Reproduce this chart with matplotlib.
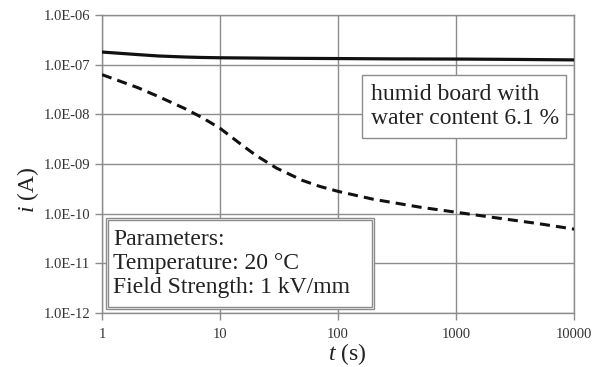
import numpy as np
import matplotlib
matplotlib.use("Agg")
import matplotlib.pyplot as plt
from matplotlib.patches import Rectangle
from matplotlib.ticker import FixedLocator, FixedFormatter

# --- data ---
t_solid = [1, 1.5, 2, 3, 5, 7, 10, 30, 100, 300, 1000, 3000, 10000]
i_solid = [1.8e-7, 1.68e-7, 1.6e-7, 1.5e-7, 1.43e-7, 1.40e-7, 1.38e-7,
           1.35e-7, 1.33e-7, 1.31e-7, 1.30e-7, 1.28e-7, 1.25e-7]

t_dash = [1, 2, 3, 5, 7, 10, 15, 20, 30, 50, 70, 100, 200, 500,
          1000, 2000, 5000, 10000]
logi_dash = [-7.20, -7.46, -7.64, -7.88, -8.06, -8.28, -8.60, -8.82, -9.08,
             -9.33, -9.45, -9.55, -9.71, -9.87, -9.97, -10.07, -10.20, -10.31]
i_dash = [10 ** v for v in logi_dash]

x_ticks = [1, 10, 100, 1000, 10000]
x_labels = ["1", "10", "100", "1000", "10000"]
y_ticks = [1e-12, 1e-11, 1e-10, 1e-9, 1e-8, 1e-7, 1e-6]
y_labels = ["1.0E-12", "1.0E-11", "1.0E-10", "1.0E-09", "1.0E-08", "1.0E-07", "1.0E-06"]

plt.rcParams["font.family"] = ["Liberation Serif", "DejaVu Serif"]
plt.rcParams["mathtext.fontset"] = "custom"
plt.rcParams["mathtext.it"] = "Liberation Serif:italic"
plt.rcParams["mathtext.rm"] = "Liberation Serif"

GRID = "#8c8c8c"
INK = "#222222"

fig = plt.figure(figsize=(5.98, 3.67), dpi=100)
ax = fig.add_axes([0.1706, 0.147, 0.7894, 0.812])

ax.plot(t_solid, i_solid, color="#111111", lw=2.3, zorder=3)
ax.plot(t_dash, i_dash, color="#111111", lw=2.2, dashes=(3.3, 2.0), zorder=3)

ax.set_xscale("log")
ax.set_yscale("log")
ax.set_xlim(1, 10000)
ax.set_ylim(1e-12, 1e-6)

ax.xaxis.set_major_locator(FixedLocator(x_ticks))
ax.xaxis.set_major_formatter(FixedFormatter(x_labels))
ax.xaxis.set_minor_locator(FixedLocator([]))
ax.yaxis.set_major_locator(FixedLocator(y_ticks))
ax.yaxis.set_major_formatter(FixedFormatter(y_labels))
ax.yaxis.set_minor_locator(FixedLocator([]))

ax.grid(True, color=GRID, lw=1.0)
ax.set_axisbelow(True)
for s in ax.spines.values():
    s.set_color(GRID)
    s.set_linewidth(1.0)

ax.tick_params(axis="both", direction="out", length=5, width=1, color=GRID,
               labelsize=10.5, labelcolor="#333333")
ax.tick_params(axis="x", pad=6)

ax.set_xlabel(r"$\mathit{t}$ (s)", fontsize=17, color=INK)
ax.xaxis.set_label_coords(0.519, -0.095)
ax.set_ylabel(r"$\mathit{i}$ (A)", fontsize=17, color=INK)
ax.yaxis.set_label_coords(-0.13, 0.413)

# humid board box
ax.add_patch(Rectangle((0.551, 0.587), 0.432, 0.212, transform=ax.transAxes,
                       fc="white", ec=GRID, lw=1.0, zorder=4))
ax.text(0.570, 0.692, "humid board with\nwater content 6.1 %",
        transform=ax.transAxes, fontsize=17, color=INK,
        va="center", ha="left", linespacing=1.2, zorder=5)

# parameters box (double frame)
ax.add_patch(Rectangle((0.0085, 0.013), 0.5675, 0.306, transform=ax.transAxes,
                       fc="white", ec=GRID, lw=1.0, zorder=4))
ax.add_patch(Rectangle((0.0135, 0.021), 0.5585, 0.292, transform=ax.transAxes,
                       fc="white", ec=GRID, lw=1.0, zorder=4))
ax.text(0.023, 0.166, "Parameters:\nTemperature: 20 \u00b0C\nField Strength: 1 kV/mm",
        transform=ax.transAxes, fontsize=17, color=INK,
        va="center", ha="left", linespacing=1.18, zorder=5)

fig.savefig("out.png", dpi=100)
